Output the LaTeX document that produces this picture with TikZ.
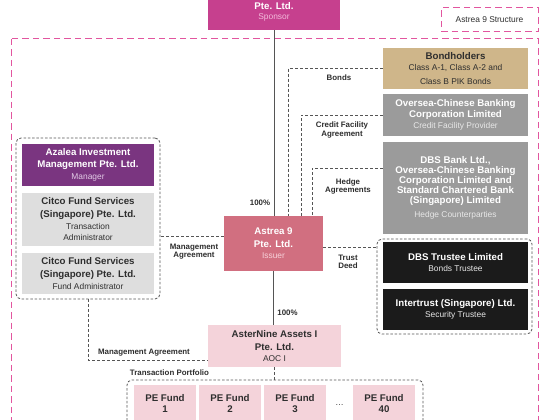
\documentclass[tikz,border=0pt]{standalone}
\usepackage{fontspec}
\setmainfont{Liberation Sans}
\usetikzlibrary{positioning}
\definecolor{pinkc}{HTML}{E2559F}
\definecolor{sponsorc}{HTML}{C6408E}
\definecolor{sponsorsub}{HTML}{F3BCDC}
\definecolor{azaleac}{HTML}{7A3580}
\definecolor{azaleasub}{HTML}{E2CBE6}
\definecolor{citcoc}{HTML}{DEDEDE}
\definecolor{bondc}{HTML}{CFB68A}
\definecolor{grayc}{HTML}{9B9B9B}
\definecolor{graysub}{HTML}{E8E8E8}
\definecolor{blackc}{HTML}{1B1B1B}
\definecolor{astreac}{HTML}{D16F80}
\definecolor{astreasub}{HTML}{F7D2DA}
\definecolor{lightpink}{HTML}{F4D3DA}
\definecolor{textdark}{HTML}{2E2E2E}
\definecolor{lineg}{HTML}{555555}
\newcommand\ttlf{\fontsize{9.7}{11.5}\selectfont\bfseries}
\newcommand\subf{\fontsize{8.4}{10}\selectfont\mdseries}
\newcommand\lblf{\fontsize{7.9}{9.5}\selectfont\bfseries}
\tikzset{
  pinkdash/.style={draw=pinkc, line width=1pt, dash pattern=on 6.5pt off 4pt},
  grp/.style={draw=lineg, line width=0.8pt, dash pattern=on 2.5pt off 1.8pt, rounded corners=5pt, inner sep=0pt},
  conn/.style={draw=lineg, line width=0.8pt, dash pattern=on 3pt off 2pt},
  solidc/.style={draw=lineg, line width=0.9pt},
  boxn/.style={inner sep=0pt, align=center, font=\ttlf},
  lbl/.style={font=\lblf, text=textdark, align=center, inner sep=0pt},
}
\begin{document}
\begin{tikzpicture}[x=1pt,y=-1pt]
\path[use as bounding box, clip] (0,0) rectangle (560,420);
\fill[white] (0,0) rectangle (560,420);

% outer structure frame
\draw[pinkdash] (11,39) rectangle (538,450);

% sponsor
\node[fill=sponsorc, minimum width=132pt, minimum height=50pt, inner sep=0pt] (sponsor) at (274,5) {};
\node[boxn, text=white] (sponsortxt) at (274,12) {Pte. Ltd.\\[-1pt]{\subf\color{sponsorsub}Sponsor}};

% legend
\node[pinkdash, minimum width=97pt, minimum height=24pt, inner sep=0pt, font=\subf, text=textdark] (legend) at (489.5,20) {Astrea 9 Structure};

% right column
\node[boxn, fill=bondc, text=textdark, minimum width=145pt, minimum height=41pt] (bond) at (455.5,68.5)
  {Bondholders\\[0pt]{\subf Class A-1, Class A-2 and}\\[2pt]{\subf Class B PIK Bonds}};
\node[boxn, fill=grayc, text=white, minimum width=145pt, minimum height=42pt] (ocbc) at (455.5,115)
  {Oversea-Chinese Banking\\[-1pt]Corporation Limited\\[0pt]{\subf\color{graysub}Credit Facility Provider}};
\node[boxn, fill=grayc, text=white, minimum width=145pt, minimum height=92pt] (dbs) at (455.5,188)
  {DBS Bank Ltd.,\\[-1.5pt]Oversea-Chinese Banking\\[-1.5pt]Corporation Limited and\\[-1.5pt]Standard Chartered Bank\\[-1.5pt](Singapore) Limited\\[2pt]{\subf\color{graysub}Hedge Counterparties}};
\node[grp, minimum width=155pt, minimum height=95pt] (trustgrp) at (454.5,286.5) {};
\node[boxn, fill=blackc, text=white, minimum width=145pt, minimum height=41pt] (dbstr) at (455.5,262.5)
  {DBS Trustee Limited\\[0pt]{\subf\color{graysub}Bonds Trustee}};
\node[boxn, fill=blackc, text=white, minimum width=145pt, minimum height=41pt] (inter) at (455.5,309.5)
  {Intertrust (Singapore) Ltd.\\[0pt]{\subf\color{graysub}Security Trustee}};

% issuer
\node[boxn, fill=astreac, text=white, minimum width=99pt, minimum height=55pt] (astrea) at (273.5,243.5)
  {Astrea 9\\[1pt]Pte. Ltd.\\[0pt]{\subf\color{astreasub}Issuer}};

% left group
\node[grp, minimum width=144pt, minimum height=161pt] (leftgrp) at (88,218.5) {};
\node[boxn, fill=azaleac, text=white, minimum width=132pt, minimum height=42pt] (azalea) at (88,165)
  {Azalea Investment\\[0.5pt]Management Pte. Ltd.\\[0.5pt]{\subf\color{azaleasub}Manager}};
\node[boxn, fill=citcoc, text=textdark, minimum width=132pt, minimum height=53pt] (citcota) at (88,219.5)
  {Citco Fund Services\\[1.5pt](Singapore) Pte. Ltd.\\[0pt]{\subf Transaction}\\[0pt]{\subf Administrator}};
\node[boxn, fill=citcoc, text=textdark, minimum width=132pt, minimum height=41pt] (citcofa) at (88,273.5)
  {Citco Fund Services\\[1.5pt](Singapore) Pte. Ltd.\\[0pt]{\subf Fund Administrator}};

% AOC I
\node[boxn, fill=lightpink, text=textdark, minimum width=133pt, minimum height=42pt] (aster) at (274.5,346)
  {AsterNine Assets I\\[1.5pt]Pte. Ltd.\\[0pt]{\subf AOC I}};

% portfolio
\node[grp, minimum width=296pt, minimum height=70pt] (portf) at (275,415) {};
\node[boxn, fill=lightpink, text=textdark, minimum width=62pt, minimum height=37pt] (pe1) at (165,403.5) {PE Fund\\[0pt]1};
\node[boxn, fill=lightpink, text=textdark, minimum width=62pt, minimum height=37pt] (pe2) at (230,403.5) {PE Fund\\[0pt]2};
\node[boxn, fill=lightpink, text=textdark, minimum width=62pt, minimum height=37pt] (pe3) at (295,403.5) {PE Fund\\[0pt]3};
\node[boxn, fill=lightpink, text=textdark, minimum width=62pt, minimum height=37pt] (pe40) at (384,403.5) {PE Fund\\[0pt]40};
\node[font=\subf, text=textdark, inner sep=0pt] (dots) at (339.5,405.5) {\dots};

% ownership lines
\draw[solidc] (sponsor.south) -- (sponsor.south |- astrea.north);
\draw[solidc] (astrea.south) -- (astrea.south |- aster.north);
\node[lbl] (pct1) at (260,203) {100\%};
\node[lbl] (pct2) at (287.5,313) {100\%};

% agreements
\draw[conn] (bond.west) -| ([xshift=14.5pt]astrea.north);
\node[lbl] (bondslbl) at (339,78) {Bonds};
\draw[conn] (ocbc.west) -| ([xshift=27.5pt]astrea.north);
\node[lbl] (credlbl) at (342,130) {Credit Facility\\[-1pt]Agreement};
\draw[conn] ([yshift=20pt]dbs.west) -| ([xshift=38.5pt]astrea.north);
\node[lbl] (hedgelbl) at (348,186.5) {Hedge\\[-1pt]Agreements};
\coordinate (td) at ([yshift=-3.5pt]astrea.east);
\draw[conn] (td) -- (td -| trustgrp.west);
\node[lbl] (tdlbl) at (348,262) {Trust\\[-1pt]Deed};
\coordinate (ma) at ([yshift=7.5pt]astrea.west);
\draw[conn] (ma) -- (ma -| leftgrp.east);
\node[lbl] (malbl) at (194,251.5) {Management\\[-1pt]Agreement};
\draw[conn] (leftgrp.south) |- ([yshift=-14pt]aster.west);
\node[lbl] (ma2lbl) at (144,353) {Management Agreement};
\draw[conn] (aster.south) -- (aster.south |- portf.north);
\node[lbl] (tplbl) at (169.5,373) {Transaction Portfolio};
\end{tikzpicture}
\end{document}
